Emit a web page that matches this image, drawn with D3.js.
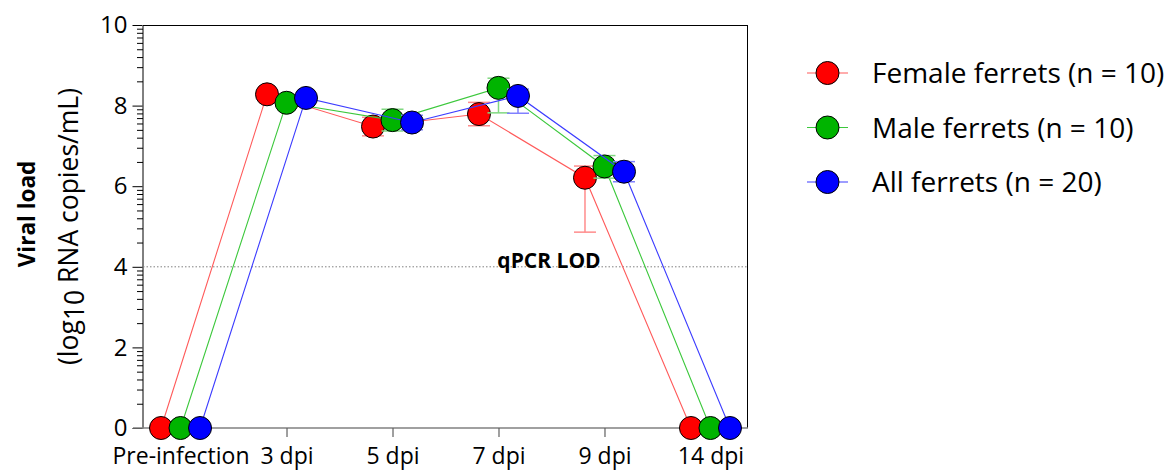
<!DOCTYPE html>
<html><head><meta charset="utf-8">
<script src="https://cdn.jsdelivr.net/npm/d3@7"></script>
<style>body{margin:0;background:#fff;} svg{display:block;font-family:"Open Sans",sans-serif;}</style>
</head><body><svg id="c" width="1175" height="470"></svg>
<script>
const categories = ["Pre-infection","3 dpi","5 dpi","7 dpi","9 dpi","14 dpi"];
const yTicks = [0,2,4,6,8,10];
const femaleMean = [0, 8.28, 7.48, 7.79, 6.21, 0];
const femaleLow  = [0, 8.20, 7.25, 7.50, 4.86, 0];
const femaleHigh = [0, 8.36, 7.71, 8.08, 6.50, 0];
const maleMean = [0, 8.07, 7.64, 8.44, 6.49, 0];
const maleLow  = [0, 8.00, 7.37, 7.82, 6.20, 0];
const maleHigh = [0, 8.14, 7.91, 8.68, 6.76, 0];
const allMean = [0, 8.19, 7.58, 8.24, 6.36, 0];
const allLow  = [0, 8.12, 7.40, 7.81, 6.11, 0];
const allHigh = [0, 8.26, 7.76, 8.41, 6.61, 0];
const seriesNames = ["Female ferrets (n = 10)","Male ferrets (n = 10)","All ferrets (n = 20)"];
const lodValue = 4;
const lodLabel = "qPCR LOD";

const series = [
  {name: seriesNames[0], mean: femaleMean, low: femaleLow, high: femaleHigh, fill:"#ff0000", line:"#ff5a5a", err:"#ff8c8c", dx:-19.5},
  {name: seriesNames[1], mean: maleMean, low: maleLow, high: maleHigh, fill:"#00b400", line:"#3cc83c", err:"#80d880", dx:0},
  {name: seriesNames[2], mean: allMean, low: allLow, high: allHigh, fill:"#0000ff", line:"#3c3cff", err:"#8080ff", dx:19.5}
];

const svg = d3.select("#c");
const L = 143, R = 748, T = 25, B = 428;
const x = d3.scalePoint().domain(categories).range([L, R]).padding(0.354);
const y = d3.scaleLinear().domain([0, 10]).range([B, T]);

const minor = [];
for (let i = 0; i < yTicks.length - 1; i++) {
  for (let k = 2; k <= 9; k++) minor.push(yTicks[i] + (yTicks[i+1]-yTicks[i]) * Math.log10(k));
}
svg.append("g").attr("transform", `translate(${L},0)`)
  .call(d3.axisLeft(y).tickValues(minor).tickSize(6).tickFormat(""))
  .call(g => { g.select(".domain").remove(); g.selectAll("line").attr("stroke","#000").attr("stroke-width",1); });

svg.append("line").attr("x1", L).attr("x2", R).attr("y1", T+0.5).attr("y2", T+0.5).attr("stroke","#000");
svg.append("line").attr("x1", R-0.5).attr("x2", R-0.5).attr("y1", T).attr("y2", B).attr("stroke","#000");

const ya = svg.append("g").attr("transform", `translate(${L-0.5},0)`)
  .call(d3.axisLeft(y).tickValues(yTicks).tickSize(10).tickPadding(5).tickSizeOuter(0));
ya.select(".domain").attr("stroke","#000");
ya.selectAll("line").attr("stroke","#000");
ya.selectAll("text").attr("font-size", 24).attr("fill","#000").style("font-family","Open Sans");

const xa = svg.append("g").attr("transform", `translate(0,${B})`)
  .call(d3.axisBottom(x).tickSize(9).tickSizeOuter(0).tickPadding(11));
xa.select(".domain").attr("d", `M${L-10},0H${R}`).attr("stroke","#808080").attr("stroke-width",1.6);
xa.selectAll("line").attr("stroke","#606060").attr("stroke-width",1.2);
xa.selectAll("text").attr("font-size", 23).attr("fill","#000").style("font-family","Open Sans");

svg.append("line").attr("x1", L).attr("x2", R).attr("y1", y(lodValue)).attr("y2", y(lodValue))
  .attr("stroke","#808080").attr("stroke-width",1).attr("stroke-dasharray","1.5,2");
svg.append("text").attr("x", 549).attr("y", y(lodValue)+1.5).attr("text-anchor","middle")
  .attr("font-size",21).attr("font-weight","bold").attr("fill","#000").text(lodLabel);

const r = 11.5;
series.forEach(s => {
  const g = svg.append("g");
  const pts = categories.map((c,i) => ({x: x(c)+s.dx, m: s.mean[i], lo: s.low[i], hi: s.high[i]}));
  g.append("path").datum(pts).attr("fill","none").attr("stroke", s.line).attr("stroke-width",1.1)
    .attr("d", d3.line().x(d=>d.x).y(d=>y(d.m)));
  const eb = g.selectAll(".eb").data(pts.filter(d => d.hi > d.lo)).join("g");
  eb.append("line").attr("x1",d=>d.x).attr("x2",d=>d.x).attr("y1",d=>y(d.lo)).attr("y2",d=>y(d.hi)).attr("stroke",s.err).attr("stroke-width",1.5);
  eb.append("line").attr("x1",d=>d.x-11).attr("x2",d=>d.x+11).attr("y1",d=>y(d.lo)).attr("y2",d=>y(d.lo)).attr("stroke",s.err).attr("stroke-width",1.5);
  eb.append("line").attr("x1",d=>d.x-11).attr("x2",d=>d.x+11).attr("y1",d=>y(d.hi)).attr("y2",d=>y(d.hi)).attr("stroke",s.err).attr("stroke-width",1.5);
  g.selectAll("circle").data(pts).join("circle").attr("cx",d=>d.x).attr("cy",d=>y(d.m)).attr("r",r)
    .attr("fill", s.fill).attr("stroke","#000").attr("stroke-width",1);
});

const yt1 = svg.append("g").attr("transform", `translate(0,214) rotate(-90)`);
yt1.append("text").attr("x",0).attr("y",35).attr("text-anchor","middle").attr("font-size",22.5).attr("font-weight","bold").text("Viral load");
const yt2 = svg.append("g").attr("transform", `translate(0,${(T+B)/2}) rotate(-90)`);
const t2 = yt2.append("text").attr("x",0).attr("y",78).attr("text-anchor","middle").attr("font-size",26.5);
t2.append("tspan").text("(log");
t2.append("tspan").attr("baseline-shift","-22%").text("10");
t2.append("tspan").text(" RNA copies/mL)");

const lg = svg.append("g");
series.forEach((s,i) => {
  const cy = 73 + i*54.5;
  lg.append("line").attr("x1",807).attr("x2",848).attr("y1",cy).attr("y2",cy).attr("stroke",s.line).attr("stroke-width",1.2);
  lg.append("circle").attr("cx",827.5).attr("cy",cy).attr("r",r).attr("fill",s.fill).attr("stroke","#000");
  lg.append("text").attr("x",872).attr("y",cy+10).attr("font-size",28).attr("fill","#000").text(s.name);
});
</script></body></html>
